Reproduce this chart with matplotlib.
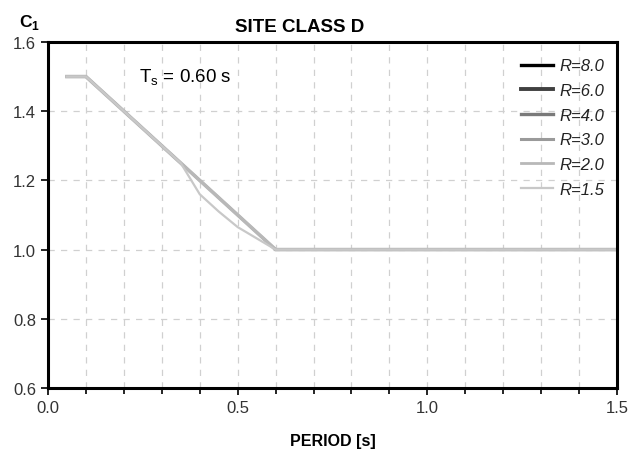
import numpy as np
import matplotlib
matplotlib.use("Agg")
from matplotlib import pyplot as plt
from matplotlib.ticker import MultipleLocator, FormatStrFormatter

plt.rcParams['font.family'] = ['Liberation Sans', 'DejaVu Sans']

# period [s] and C1 values
period = [0.05, 0.10, 0.20, 0.30, 0.35, 0.40, 0.45, 0.50, 0.60, 1.50]
c1_straight = [1.50, 1.50, 1.40, 1.30, 1.25, 1.20, 1.15, 1.10, 1.00, 1.00]
c1_r15 = [1.50, 1.50, 1.40, 1.30, 1.25, 1.16, 1.11, 1.065, 1.00, 1.00]

labels = ['R=8.0', 'R=6.0', 'R=4.0', 'R=3.0', 'R=2.0', 'R=1.5']
series = [c1_straight, c1_straight, c1_straight, c1_straight, c1_straight, c1_r15]
colors = ['#000000', '#404040', '#7a7a7a', '#9a9a9a', '#b8b8b8', '#c8c8c8']
# lines sit on top of each other, the light ones cover the dark ones
plot_widths = [1.2, 1.4, 1.6, 1.8, 2.6, 1.6]
legend_widths = [2.4, 2.8, 2.4, 2.2, 2.0, 1.6]

fig = plt.figure(figsize=(6.29, 4.52), dpi=100)
ax = fig.add_axes([0.0763, 0.1394, 0.9047, 0.7655])

for y, lab, c, w in zip(series, labels, colors, plot_widths):
    ax.plot(period, y, color=c, lw=w, label=lab)

ax.set_xlim(0, 1.5)
ax.set_ylim(0.6, 1.6)
ax.xaxis.set_major_locator(MultipleLocator(0.5))
ax.xaxis.set_minor_locator(MultipleLocator(0.1))
ax.yaxis.set_major_locator(MultipleLocator(0.2))
ax.xaxis.set_major_formatter(FormatStrFormatter('%.1f'))
ax.yaxis.set_major_formatter(FormatStrFormatter('%.1f'))
ax.tick_params(axis='both', which='both', direction='out', labelsize=12,
               colors='black', labelcolor='#333333')
ax.tick_params(which='major', length=5, width=1.2)
ax.tick_params(which='minor', length=4, width=1.2)

ax.grid(True, which='both', axis='x', ls=(0, (5, 5)), color='#d0d0d0', lw=0.9)
ax.grid(True, which='major', axis='y', ls=(0, (5, 5)), color='#d0d0d0', lw=0.9)
for s in ax.spines.values():
    s.set_linewidth(2.2)

ax.set_title('SITE CLASS D', fontsize=13.5, fontweight='bold', pad=8, x=0.443)
ax.set_xlabel('PERIOD [s]', fontsize=11.5, fontweight='bold', labelpad=13)
fig.text(0.03, 0.94, r'C$_\mathregular{1}$', fontsize=12.5, fontweight='bold')
ax.text(0.24, 1.50, r'T$_\mathregular{s}$ = 0.60 s', fontsize=13.5, va='center')

leg = ax.legend(loc='upper right', frameon=False, fontsize=12,
                handlelength=1.9, handletextpad=0.4, labelspacing=0.58,
                bbox_to_anchor=(0.989, 0.972), borderaxespad=0)
for h, w in zip(leg.legend_handles, legend_widths):
    h.set_linewidth(w)
for t in leg.get_texts():
    t.set_fontstyle('italic')
    t.set_color('#222222')

fig.savefig('out.png', dpi=100)
